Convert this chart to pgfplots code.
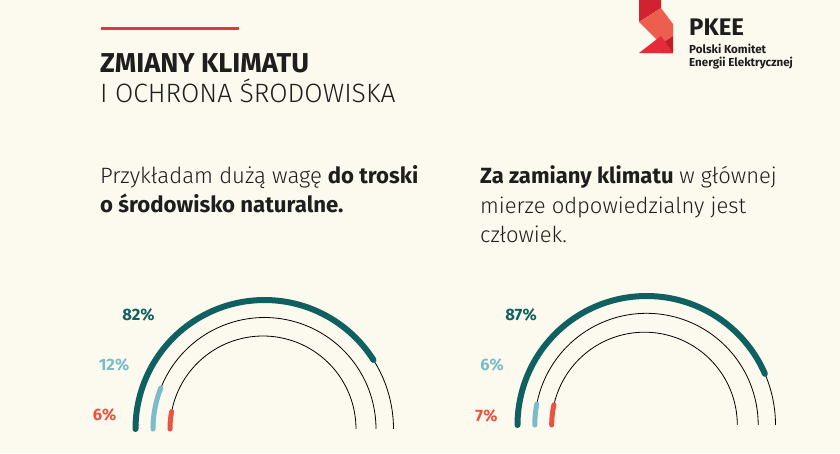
\documentclass[border=0pt]{standalone}
\usepackage{pgfplots}
\pgfplotsset{compat=1.18}
\usepackage{fontspec}
\setmainfont{Fira Sans}
\newfontfamily\lightfont{Fira Sans Light}
\definecolor{bg}{HTML}{FCF9EE}
\definecolor{tealc}{HTML}{0E6061}
\definecolor{lblue}{HTML}{7BBCCB}
\definecolor{redc}{HTML}{E9533F}
\definecolor{thin}{HTML}{3A3A3A}
\definecolor{txt}{HTML}{1E1E1E}
\definecolor{lineRed}{HTML}{E0393E}
\definecolor{logoA}{HTML}{D1232F}
\definecolor{logoB}{HTML}{EE5E4E}
\definecolor{logoC}{HTML}{C11E2C}
\definecolor{logoD}{HTML}{E52A3A}
% values (percent)
\def\LA{82}\def\LB{12}\def\LC{6}
\def\RA{87}\def\RB{6}\def\RC{7}
\begin{document}
\begin{tikzpicture}
\begin{axis}[
  width=840pt, height=453pt, scale only axis,
  xmin=0, xmax=840, ymin=0, ymax=453, y dir=reverse,
  hide axis, clip=false,
  samples=90,
]
\fill[bg] (axis cs:0,0) rectangle (axis cs:840,453);
% header
\draw[lineRed, line width=3.3pt] (axis cs:100.7,28.3) -- (axis cs:239,28.3);
\node[anchor=base west, inner sep=0pt, font=\fontsize{27.3}{30}\selectfont\bfseries, text=txt] at (axis cs:100,72) {ZMIANY KLIMATU};
\node[anchor=base west, inner sep=0pt, font=\fontsize{26.5}{30}\selectfont\lightfont, text=txt] at (axis cs:100,102) {I OCHRONA ŚRODOWISKA};
% logo
\fill[logoA] (axis cs:639,0) -- (axis cs:661,0) -- (axis cs:661,8) -- (axis cs:639,22) -- cycle;
\fill[logoB] (axis cs:639,22) -- (axis cs:661,8) -- (axis cs:673,24) -- (axis cs:673,36) -- (axis cs:661,44) -- cycle;
\fill[logoC] (axis cs:661,44) -- (axis cs:673,36) -- (axis cs:673,53) -- (axis cs:661,53) -- cycle;
\fill[logoD] (axis cs:639,53) -- (axis cs:673,53) -- (axis cs:661,36) -- cycle;
\node[anchor=base west, inner sep=0pt, font=\fontsize{24}{26}\selectfont\bfseries, text=txt] at (axis cs:689,35.5) {PKEE};
\node[anchor=base west, inner sep=0pt, font=\fontsize{11.6}{13}\selectfont\bfseries, text=txt] at (axis cs:689,53) {Polski Komitet};
\node[anchor=base west, inner sep=0pt, font=\fontsize{11.6}{13}\selectfont\bfseries, text=txt] at (axis cs:689,66.5) {Energii Elektrycznej};
% questions
\node[anchor=base west, inner sep=0pt, font=\fontsize{22.2}{29}\selectfont, text=txt] at (axis cs:100,183) {{\lightfont Przykładam dużą wagę} \textbf{do troski}};
\node[anchor=base west, inner sep=0pt, font=\fontsize{22.2}{29}\selectfont, text=txt] at (axis cs:100,212) {\textbf{o środowisko naturalne.}};
\node[anchor=base west, inner sep=0pt, font=\fontsize{22}{29}\selectfont, text=txt] at (axis cs:480,183) {\textbf{Za zamiany klimatu} {\lightfont w głównej}};
\node[anchor=base west, inner sep=0pt, font=\fontsize{22}{29}\selectfont\lightfont, text=txt] at (axis cs:480,213) {mierze odpowiedzialny jest};
\node[anchor=base west, inner sep=0pt, font=\fontsize{22}{29}\selectfont\lightfont, text=txt] at (axis cs:480,242) {człowiek.};
% LEFT gauge: centre (264.5,429)
\addplot[thin, line width=0.8pt, domain=0:100] ({264.5+129*cos(180-1.8*x)}, {429-129*sin(180-1.8*x)});
\addplot[thin, line width=0.8pt, domain=0:100] ({264.5+111.5*cos(180-1.8*x)}, {429-111.5*sin(180-1.8*x)});
\addplot[thin, line width=0.8pt, domain=0:100] ({263+93*cos(180-1.8*x)}, {429-93*sin(180-1.8*x)});
\addplot[tealc, line width=6pt, line cap=round, domain=0:\LA] ({264.5+129*cos(180-1.8*x)}, {429-129*sin(180-1.8*x)});
\addplot[lblue, line width=5pt, line cap=round, domain=0:\LB] ({264.5+111.5*cos(180-1.8*x)}, {429-111.5*sin(180-1.8*x)});
\addplot[redc, line width=5pt, line cap=round, domain=0:\LC] ({263+93*cos(180-1.8*x)}, {429-93*sin(180-1.8*x)});
\node[font=\fontsize{16.5}{18}\selectfont\bfseries, text=tealc] at (axis cs:138.5,314.5) {\LA\%};
\node[font=\fontsize{16.5}{18}\selectfont\bfseries, text=lblue] at (axis cs:114,365) {\LB\%};
\node[font=\fontsize{16.5}{18}\selectfont\bfseries, text=redc] at (axis cs:104.5,415) {\LC\%};
% RIGHT gauge: centre (646.5,425)
\addplot[thin, line width=0.8pt, domain=0:100] ({646.5+129*cos(180-1.8*x)}, {425-129*sin(180-1.8*x)});
\addplot[thin, line width=0.8pt, domain=0:100] ({646.5+111.7*cos(180-1.8*x)}, {425-111.7*sin(180-1.8*x)});
\addplot[thin, line width=0.8pt, domain=0:100] ({644.5+92.8*cos(180-1.8*x)}, {425-92.8*sin(180-1.8*x)});
\addplot[tealc, line width=6pt, line cap=round, domain=0:\RA] ({646.5+129*cos(180-1.8*x)}, {425-129*sin(180-1.8*x)});
\addplot[lblue, line width=5pt, line cap=round, domain=0:\RB] ({646.5+111.7*cos(180-1.8*x)}, {425-111.7*sin(180-1.8*x)});
\addplot[redc, line width=5pt, line cap=round, domain=0:\RC] ({644.5+92.8*cos(180-1.8*x)}, {425-92.8*sin(180-1.8*x)});
\node[font=\fontsize{16.5}{18}\selectfont\bfseries, text=tealc] at (axis cs:521,315) {\RA\%};
\node[font=\fontsize{16.5}{18}\selectfont\bfseries, text=lblue] at (axis cs:492,365) {\RB\%};
\node[font=\fontsize{16.5}{18}\selectfont\bfseries, text=redc] at (axis cs:486.5,415.5) {\RC\%};
\end{axis}
\end{tikzpicture}
\end{document}
